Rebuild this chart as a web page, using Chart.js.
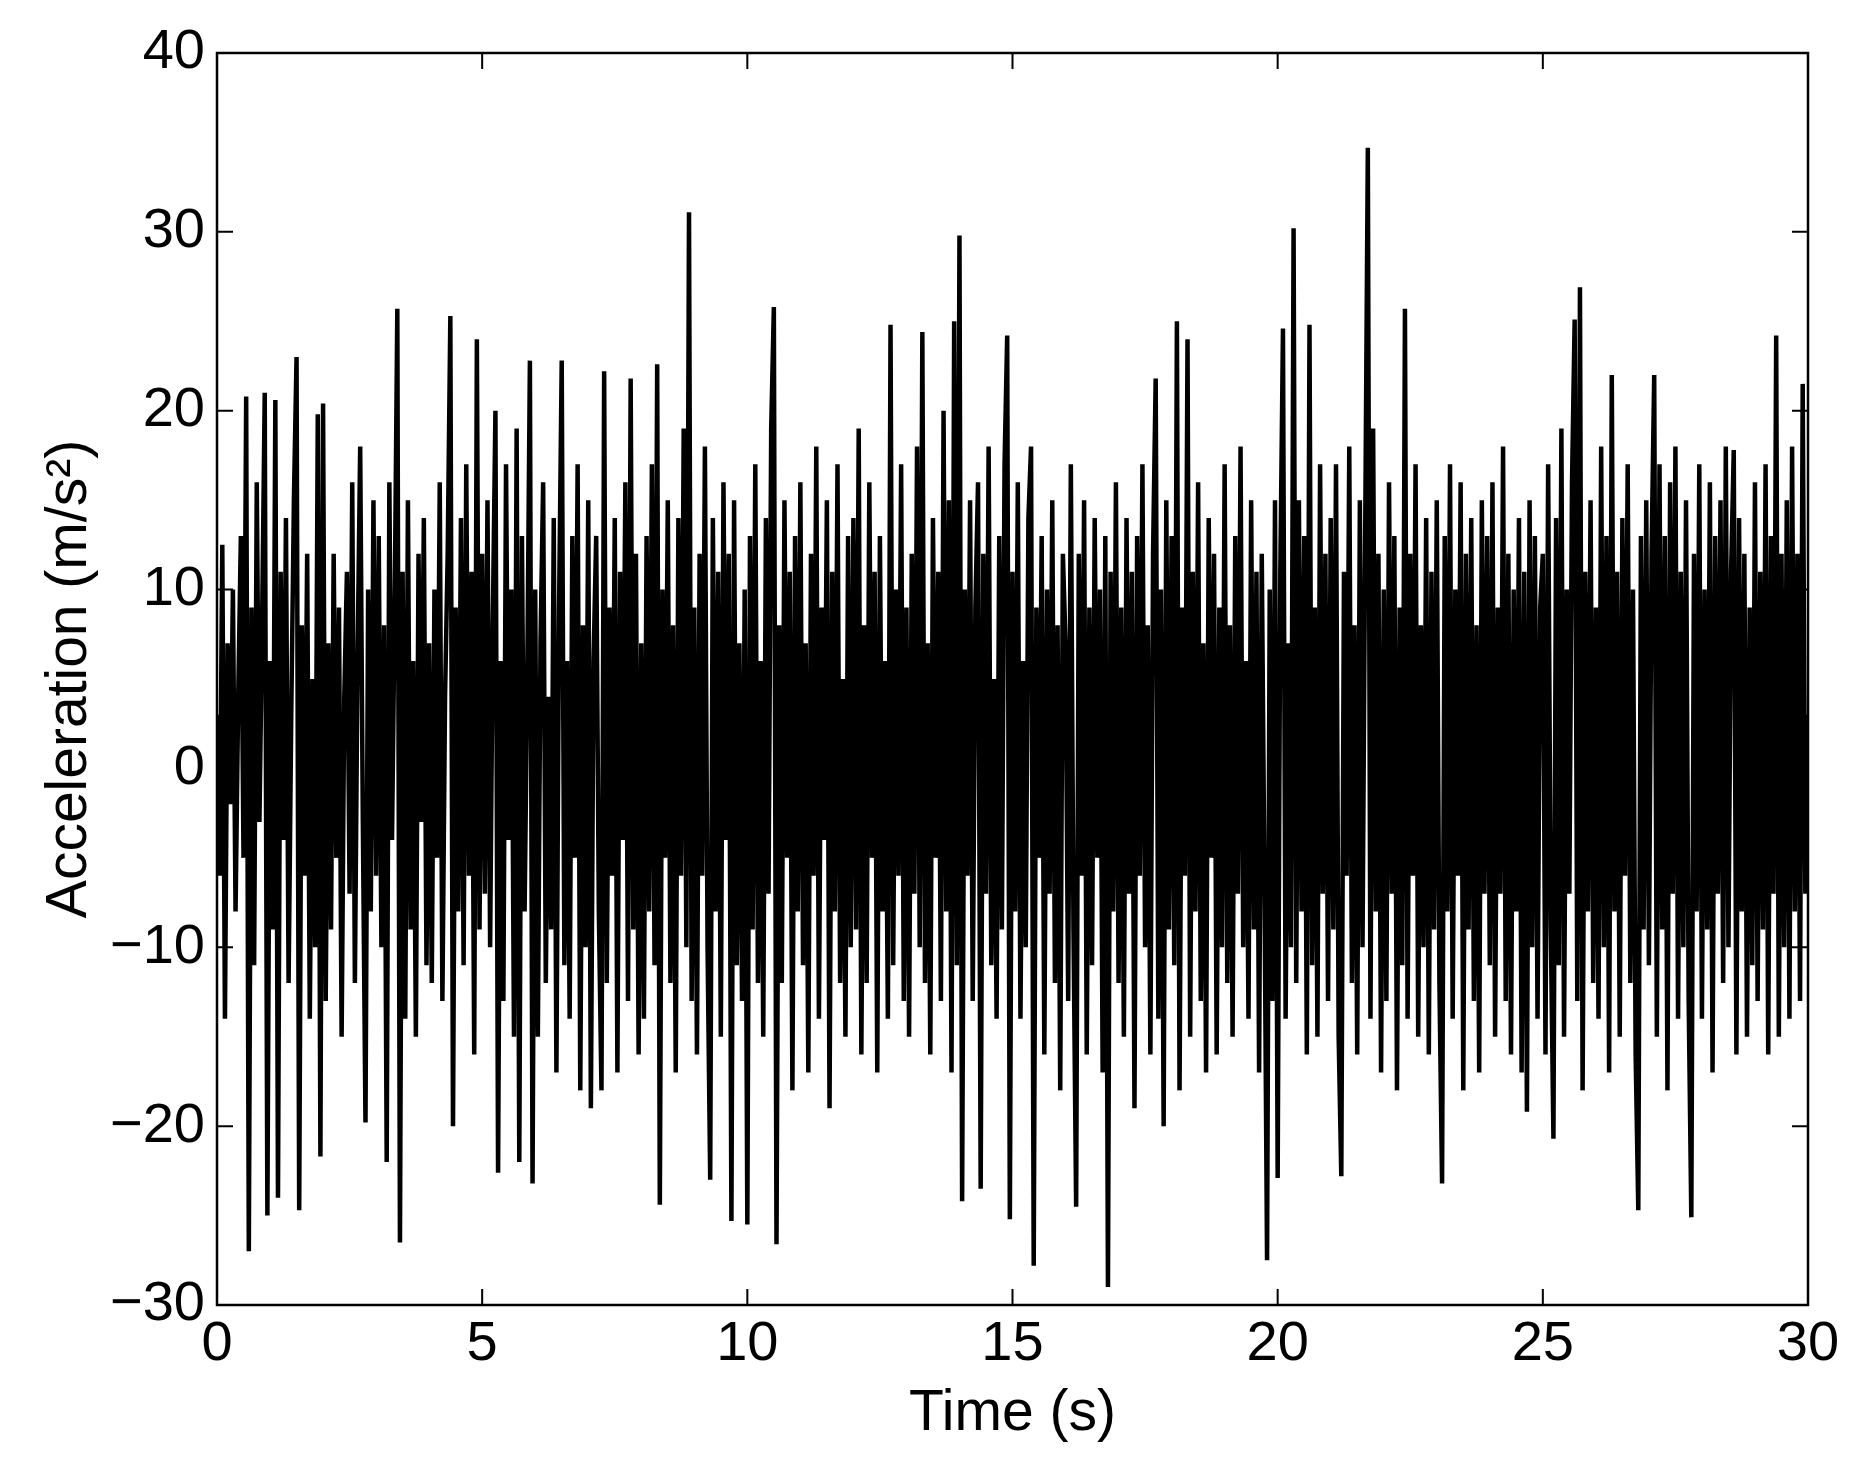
<!DOCTYPE html>
<html><head><meta charset="utf-8">
<script src="https://cdn.jsdelivr.net/npm/chart.js@4"></script>
<style>html,body{margin:0;padding:0;background:#fff}#w{width:1864px;height:1468px}</style>
</head><body><div id="w"><canvas id="c"></canvas></div>
<script>
const sampleStep = 0.05; // seconds between samples
const xTicks = [0,5,10,15,20,25,30];
const yTicks = [-30,-20,-10,0,10,20,30,40];
const accel = [
 3,-6,12.5,-14,7,-2,10,-8,4,13,-5,20.8,-27,9,-11,16,-3,8,21,-25,
 6,-9,20.6,-24,11,-4,14,-12,3,15,23,-24.7,8,-6,12,-14,5,-10,19.8,-21.7,
 20.4,-13,7,-9,12,-5,9,-15,4,11,-7,16,-12,6,18,-3,-19.8,10,-8,15,
 -6,13,-10,8,-22,16,-4,9,25.7,-26.5,11,-14,15,-9,6,-15,12,-3,14,-11,
 7,-12,10,-5,16,-13,4,12,25.3,-20,9,-8,14,-11,17,-6,11,-16,24,-9,
 12,-7,15,-10,8,20,-22.6,6,-13,17,-4,10,-15,19,-22,13,-8,5,22.8,-23.2,
 10,-15,7,16,-12,4,-9,14,-17,9,22.8,-11,6,-14,13,-5,17,-18,8,-10,
 15,-19,6,13,-8,-18,22.2,-12,9,-6,14,-17,11,-4,16,-13,21.8,-9,12,-16,
 7,-14,13,-8,17,-11,22.6,-24.4,10,-5,15,-12,8,-17,14,-6,19,-10,31.1,-13,
 9,-16,12,-6,18,-10,-23,14,-8,11,-15,16,-4,12,-25.3,15,-11,7,-13,10,
 -25.5,13,-9,17,-12,6,-15,14,-7,19,25.8,-26.6,8,-12,15,-5,11,-18,13,-8,
 16,-11,7,-17,12,-6,18,-14,9,-4,15,-19,11,-8,17,-12,5,-15,13,-10,
 14,-9,19,-16,8,-12,16,-5,11,-17,13,-8,6,-14,24.8,-11,10,-6,17,-13,
 9,-15,12,-7,18,-10,24.4,-12,7,-16,14,-5,11,-13,20,-8,15,-17,25,-11,
 29.8,-24.2,10,-6,15,-13,9,16,-23.5,12,-7,18,-11,5,-14,13,-9,17,24.2,-25.2,
 11,-8,16,-14,6,-10,14,18,-27.8,9,-5,13,-16,10,-7,15,-12,8,-18,12,
 7,-13,17,-9,-24.5,12,-6,15,-16,9,-11,14,-5,10,-17,13,-29,11,-8,16,
 -12,9,-15,14,-7,11,-19,13,-6,17,-10,8,-16,12,21.8,-14,10,-20,15,-9,
 13,-11,25,-18,9,-6,24,-15,11,-8,16,-13,7,-17,14,-5,12,-16,9,-10,
 17,-12,8,-15,13,-7,18,-10,6,-14,15,-9,11,-17,12,-6,-27.5,10,-13,15,
 -22.9,11,24.6,-14,7,-10,30.2,-12,15,-8,13,-16,24.8,-11,9,-15,17,-7,12,-13,
 14,-9,17,-15,-22.8,11,-6,18,-12,8,-16,15,-10,13,34.7,-14,19,-8,12,-17,
 10,-13,16,-7,13,-18,9,-11,25.7,-14,12,-6,17,-15,8,-10,14,-16,11,-9,
 15,-12,-23.2,13,-8,17,-14,10,-6,16,-18,12,-9,14,-13,8,-17,15,-7,13,
 -11,16,-15,9,-7,18,-13,12,-16,10,-8,14,-17,11,-19.2,15,-10,13,-14,9,
 12,-16,17,-9,-20.7,14,-11,19,-15,10,-7,16,25.1,-13,26.9,-18,11,-8,15,-12,
 9,-14,18,-10,13,-17,22,-8,11,-15,14,-6,17,-12,10,-16,-24.7,13,-9,15,
 -11,12,22,-15,17,-9,13,-18,16,-7,18,-14,11,-10,15,-13,-25.1,12,-8,17,
 -14,10,-9,16,-17,13,-7,15,-12,18,-10,11,17.8,-16,14,-8,12,-15,9,-11,
 16,-13,11,-9,17,-16,13,-7,24.2,-15,12,-10,15,-14,18,-8,12,-13,21.5,-7,
 3
];
const pts = accel.map((v,i)=>({x:+(i*sampleStep).toFixed(2), y:v}));
const F = 'Liberation Sans, Arial, sans-serif';
const fmt = v => String(v).replace('-','\u2212');
const boxTicks = {
  id:'boxTicks',
  afterDraw(ch){
    const {ctx,chartArea:a,scales:{x,y}} = ch;
    ctx.save(); ctx.strokeStyle='#000'; ctx.lineWidth=2.5;
    ctx.strokeRect(a.left,a.top,a.right-a.left,a.bottom-a.top);
    ctx.lineWidth=2; const L=16;
    ctx.beginPath();
    xTicks.forEach(t=>{const p=x.getPixelForValue(t);
      ctx.moveTo(p,a.bottom);ctx.lineTo(p,a.bottom-L);ctx.moveTo(p,a.top);ctx.lineTo(p,a.top+L);});
    yTicks.forEach(t=>{const p=y.getPixelForValue(t);
      ctx.moveTo(a.left,p);ctx.lineTo(a.left+L,p);ctx.moveTo(a.right,p);ctx.lineTo(a.right-L,p);});
    ctx.stroke(); ctx.restore();
  }
};
new Chart(document.getElementById('c'),{
  type:'line',
  data:{datasets:[{data:pts,borderColor:'#000',borderWidth:4.5,pointRadius:0,tension:0,fill:false}]},
  options:{
    responsive:true,maintainAspectRatio:false,animation:false,devicePixelRatio:1,
    layout:{padding:{top:53,right:56,left:0,bottom:0}},
    plugins:{legend:{display:false},tooltip:{enabled:false}},
    scales:{
      x:{type:'linear',min:0,max:30,
        afterFit(s){s.height=163;},
        afterBuildTicks(s){s.ticks=xTicks.map(v=>({value:v}));},
        grid:{display:false,drawTicks:false},border:{display:false},
        ticks:{color:'#000',font:{family:F,size:56},padding:6,maxRotation:0,callback:fmt},
        title:{display:true,text:'Time (s)',color:'#000',font:{family:F,size:57},padding:{top:0,bottom:20}}},
      y:{type:'linear',min:-30,max:40,
        afterFit(s){s.width=217;},
        afterBuildTicks(s){s.ticks=yTicks.map(v=>({value:v}));},
        grid:{display:false,drawTicks:false},border:{display:false},
        ticks:{color:'#000',font:{family:F,size:56},padding:12,callback:fmt},
        title:{display:true,text:'Acceleration (m/s²)',color:'#000',font:{family:F,size:57},padding:{top:36,bottom:0}}}
    }
  },
  plugins:[boxTicks]
});
</script></body></html>
